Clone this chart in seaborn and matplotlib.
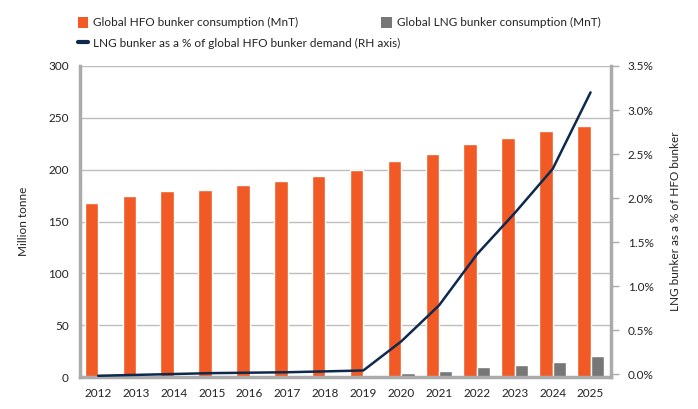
import matplotlib
matplotlib.use("Agg")
import matplotlib.pyplot as plt
import seaborn as sns
import pandas as pd
import numpy as np
from matplotlib.patches import Patch
from matplotlib.lines import Line2D

years = ["2012", "2013", "2014", "2015", "2016", "2017", "2018", "2019",
         "2020", "2021", "2022", "2023", "2024", "2025"]
hfo = [168, 175, 179, 180, 185, 189, 194, 200, 208, 215, 225, 231, 237, 242]
lng = [0.0, 0.01, 0.02, 0.03, 0.04, 0.05, 0.06, 0.08, 3.5, 5.5, 9.3, 11.3, 14, 20]
lng_pct = [-0.02, -0.01, 0.0, 0.01, 0.015, 0.02, 0.03, 0.04, 0.37, 0.78, 1.36, 1.83, 2.33, 3.2]

hfo_name = "Global HFO bunker consumption (MnT)"
lng_name = "Global LNG bunker consumption (MnT)"
pct_name = "LNG bunker as a % of global HFO bunker demand (RH axis)"

ORANGE = "#F15A24"
GREY = "#777777"
NAVY = "#0D2A4E"
SPINE = "#ABABAB"
GRID = "#BDBDBD"

df = pd.DataFrame({
    "year": years * 2,
    "value": hfo + lng,
    "series": [hfo_name] * len(years) + [lng_name] * len(years),
})

sns.set_theme(style="white")
plt.rcParams["font.family"] = ["Lato", "DejaVu Sans"]

fig = plt.figure(figsize=(6.98, 4.09), dpi=100)
ax = fig.add_axes([80 / 698, 1 - 377 / 409, (611 - 80) / 698, (377 - 66) / 409])

sns.barplot(data=df, x="year", y="value", hue="series",
            palette={hfo_name: ORANGE, lng_name: GREY},
            width=0.71, saturation=1, ax=ax, legend=False, zorder=2)

ax.set_xlim(-0.48, 13.54)
ax.set_ylim(0, 300)
ax.set_yticks(range(0, 301, 50))
ax.yaxis.grid(True, color=GRID, linewidth=1.0, zorder=0)
ax.set_axisbelow(True)
ax.set_xlabel("")
ax.set_ylabel("Million tonne", fontsize=8.5, color="#222222", labelpad=14)
ax.tick_params(axis="both", length=0, labelsize=8.5, colors="#222222", pad=8)
for s in ["top", "right"]:
    ax.spines[s].set_visible(False)
for s in ["left", "bottom"]:
    ax.spines[s].set_color(SPINE)
    ax.spines[s].set_linewidth(2.5)

ax2 = ax.twinx()
sns.lineplot(x=np.arange(len(years)), y=lng_pct, color=NAVY, linewidth=1.8, ax=ax2)
ax2.set_ylim(-0.034, 3.5)
ax2.set_yticks(np.arange(0, 3.51, 0.5))
ax2.set_yticklabels([f"{v:.1f}%" for v in np.arange(0, 3.51, 0.5)])
ax2.set_ylabel("LNG bunker as a % of HFO bunker", fontsize=8.5, color="#222222",
               rotation=90, labelpad=12)
ax2.tick_params(axis="y", length=6, width=1, color=SPINE, labelsize=8.5,
                colors="#222222", pad=6)
ax2.tick_params(axis="y", which="both", color=SPINE)
for s in ["top", "left", "bottom"]:
    ax2.spines[s].set_visible(False)
ax2.spines["right"].set_color(SPINE)
ax2.spines["right"].set_linewidth(2.5)
ax2.grid(False)

handles = [
    Patch(facecolor=ORANGE, edgecolor="none"),
    Line2D([0], [0], color=NAVY, linewidth=3),
    Patch(facecolor=GREY, edgecolor="none"),
]
labels = [hfo_name, pct_name, lng_name]
fig.legend(handles, labels, loc="upper left", bbox_to_anchor=(67 / 698, 1 - 6 / 409),
           ncol=2, frameon=False, fontsize=8.5, handlelength=0.9, handleheight=1.1,
           handletextpad=0.4, columnspacing=-1.6, labelspacing=0.75,
           labelcolor="#222222")

fig.savefig("out.png", dpi=100)
